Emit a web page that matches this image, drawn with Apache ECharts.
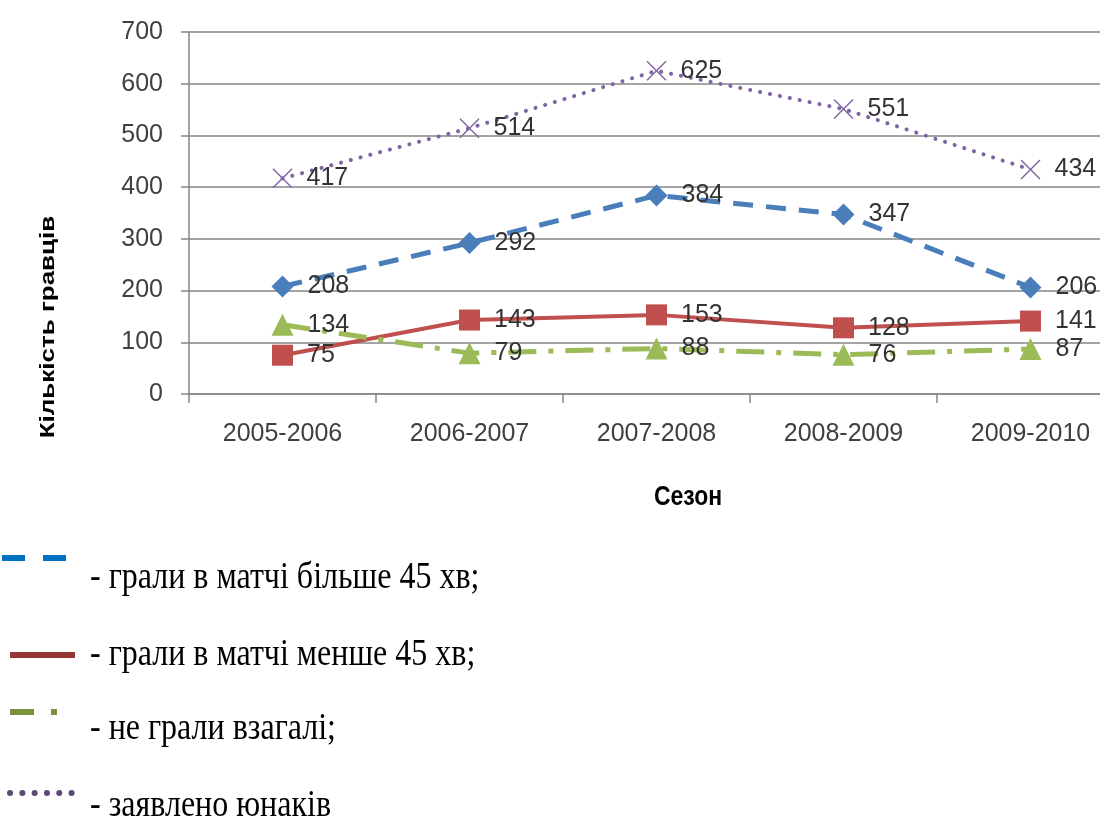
<!DOCTYPE html>
<html>
<head>
<meta charset="utf-8">
<script src="https://cdn.jsdelivr.net/npm/echarts@6/dist/echarts.min.js"></script>
<style>
  html, body { margin: 0; padding: 0; background: #fff; overflow: hidden; }
  /* plot area runs past the right edge of the picture, as in the original */
  #chart { width: 1124px; height: 817px; }
</style>
</head>
<body>
<div id="chart"></div>
<script>
// seasons on the x axis
let seasons = ['2005-2006', '2006-2007', '2007-2008', '2008-2009', '2009-2010']
// players per season
let played_more45 = [208, 292, 384, 347, 206]
let played_less45 = [75, 143, 153, 128, 141]
let not_played = [134, 79, 88, 76, 87]
let declared = [417, 514, 625, 551, 434]
let legend_names = [
    '- грали в матчі більше 45 хв;',
    '- грали в матчі менше 45 хв;',
    '- не грали взагалі;',
    '- заявлено юнаків'
]

let chart = echarts.init(document.getElementById('chart'))
let labelStyle = {
    show: true,
    position: 'right',
    distance: 14,
    color: '#333',
    fontSize: 25,
    fontFamily: 'Liberation Sans'
}
// thin "x" marker like Excel's
let crossPath = 'path://M0,1 L1,0 L10,9 L19,0 L20,1 L11,10 L20,19 L19,20 L10,11 L1,20 L0,19 L9,10 Z'

function legendText(i, y) {
    return {
        type: 'text', x: 90, y: y, scaleY: 1.2,
        style: { text: legend_names[i], fontSize: 32, fontFamily: 'Liberation Serif', fill: '#000', verticalAlign: 'middle' }
    }
}

chart.setOption({
    animation: false,
    grid: {
        left: 189,
        top: 32,
        right: 0,
        bottom: 423
    },
    xAxis: {
        type: 'category',
        data: seasons,
        boundaryGap: true,
        axisLine: { show: true, lineStyle: { color: '#868686', width: 1.5 } },
        axisTick: { show: true, length: 9, lineStyle: { color: '#868686', width: 1.5 } },
        axisLabel: { color: '#404040', fontSize: 25, margin: 28, fontFamily: 'Liberation Sans' },
        splitLine: { show: false }
    },
    yAxis: {
        type: 'value',
        min: 0,
        max: 700,
        interval: 100,
        axisLine: { show: true, lineStyle: { color: '#868686', width: 1.5 } },
        axisTick: { show: true, length: 8, lineStyle: { color: '#868686', width: 1.5 } },
        axisLabel: { color: '#404040', fontSize: 25, margin: 26, fontFamily: 'Liberation Sans' },
        splitLine: { show: true, lineStyle: { color: '#868686', width: 1.5 } }
    },
    series: [
        {
            name: legend_names[0],
            type: 'line',
            data: played_more45,
            symbol: 'diamond',
            symbolSize: 22,
            itemStyle: { color: '#4A7EBB' },
            lineStyle: { color: '#4A7EBB', width: 5, type: [20, 13] },
            label: labelStyle
        },
        {
            name: legend_names[1],
            type: 'line',
            data: played_less45,
            symbol: 'rect',
            symbolSize: 21,
            itemStyle: { color: '#C0504D' },
            lineStyle: { color: '#C0504D', width: 4 },
            label: labelStyle
        },
        {
            name: legend_names[2],
            type: 'line',
            data: not_played,
            symbol: 'triangle',
            symbolSize: 22,
            itemStyle: { color: '#9BBB59' },
            lineStyle: { color: '#9BBB59', width: 5, type: [28, 12, 5, 12] },
            label: labelStyle
        },
        {
            name: legend_names[3],
            type: 'line',
            data: declared,
            symbol: crossPath,
            symbolSize: 20,
            itemStyle: { color: '#8064A2' },
            lineStyle: { color: '#8064A2', width: 4, type: [0.1, 10], cap: 'round' },
            label: labelStyle
        }
    ],
    graphic: [
        {
            type: 'text',
            x: 48, y: 327,
            rotation: Math.PI / 2,
            scaleX: 1.3,
            style: {
                text: 'Кількість гравців',
                fontSize: 20, fontWeight: 'bold', fontFamily: 'Liberation Sans',
                fill: '#000', align: 'center', verticalAlign: 'middle'
            }
        },
        {
            type: 'text',
            x: 688, y: 497,
            scaleY: 1.2,
            style: {
                text: 'Сезон',
                fontSize: 23, fontWeight: 'bold', fontFamily: 'Liberation Sans',
                fill: '#000', align: 'center', verticalAlign: 'middle'
            }
        },
        // legend keys
        { type: 'line', shape: { x1: 2, y1: 558, x2: 25, y2: 558 }, style: { stroke: '#0070C0', lineWidth: 6 } },
        { type: 'line', shape: { x1: 43, y1: 558, x2: 66, y2: 558 }, style: { stroke: '#0070C0', lineWidth: 6 } },
        { type: 'line', shape: { x1: 10, y1: 655, x2: 75, y2: 655 }, style: { stroke: '#953735', lineWidth: 6 } },
        { type: 'line', shape: { x1: 10, y1: 712, x2: 34, y2: 712 }, style: { stroke: '#77933C', lineWidth: 6 } },
        { type: 'line', shape: { x1: 51, y1: 712, x2: 57, y2: 712 }, style: { stroke: '#77933C', lineWidth: 6 } },
        { type: 'line', shape: { x1: 10, y1: 793, x2: 73, y2: 793 }, style: { stroke: '#5F497A', lineWidth: 6, lineDash: [0.1, 12.2], lineCap: 'round' } },
        legendText(0, 578),
        legendText(1, 655),
        legendText(2, 729),
        legendText(3, 806)
    ]
})
</script>
</body>
</html>
